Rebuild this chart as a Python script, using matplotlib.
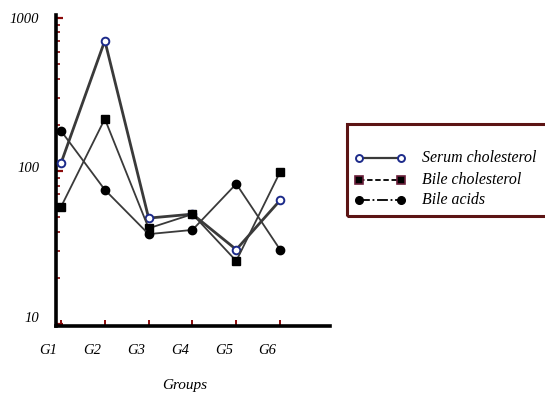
import matplotlib
matplotlib.use("Agg")
import matplotlib.pyplot as plt
import matplotlib.transforms as mtransforms
from matplotlib.lines import Line2D
from matplotlib.patches import Rectangle
from matplotlib.ticker import LogLocator, NullFormatter

plt.rcParams['font.family'] = ['Liberation Serif', 'DejaVu Serif']

groups = ["G1", "G2", "G3", "G4", "G5", "G6"]
serum_cholesterol = [112, 708, 49, 52, 30.5, 64]
bile_cholesterol = [58, 218, 42, 52, 25.7, 98]
bile_acids = [182, 75, 38.5, 41, 82, 30.5]
ytick_values = [10, 100, 1000]
ytick_labels = ["10", "100", "1000"]

line_color = "#3a3a3a"
tick_red = "#8b0a0a"
navy = "#1c2a8a"
maroon = "#5c1414"

fig = plt.figure(figsize=(5.45, 3.94), dpi=100)
ax = fig.add_axes([0.1028, 0.1734, 0.5027, 0.7886])

x = list(range(1, len(groups) + 1))

ax.plot(x, serum_cholesterol, color=line_color, lw=2.0, marker='o', ms=5.5,
        mfc='white', mec=navy, mew=1.4, zorder=3)
ax.plot(x, bile_cholesterol, color=line_color, lw=1.3, marker='s', ms=6.2,
        mfc='black', mec='black', zorder=3)
ax.plot(x, bile_acids, color=line_color, lw=1.3, marker='o', ms=6.0,
        mfc='black', mec='black', zorder=3)

ax.set_yscale('log')
ax.set_ylim(10 ** 0.987, 10 ** 3.0176)
ax.set_xlim(0.886, 7.14)

for s in ['top', 'right']:
    ax.spines[s].set_visible(False)
for s in ['left', 'bottom']:
    ax.spines[s].set_linewidth(2.6)
    ax.spines[s].set_color('black')

ax.set_yticks(ytick_values)
ax.set_yticklabels(ytick_labels, fontsize=10.5, style='italic')
ax.yaxis.set_minor_locator(LogLocator(base=10, subs=range(2, 10)))
ax.yaxis.set_minor_formatter(NullFormatter())
ax.tick_params(axis='y', which='major', direction='in', length=5, width=1.6,
               color=tick_red, pad=12)
ax.tick_params(axis='y', which='minor', direction='in', length=3, width=1.2,
               color=tick_red)

ax.set_xticks(x)
ax.set_xticklabels(groups, fontsize=10.5, style='italic')
ax.tick_params(axis='x', which='major', direction='in', length=4, width=1.4,
               color=tick_red, pad=13)

# nudge tick labels
y_shifts = {"10": 5, "100": 3, "1000": 0}
for lab in ax.get_yticklabels():
    dy = y_shifts.get(lab.get_text(), 0)
    lab.set_transform(lab.get_transform() +
                      mtransforms.ScaledTranslation(0, dy / 72, fig.dpi_scale_trans))
for lab in ax.get_xticklabels():
    lab.set_transform(lab.get_transform() +
                      mtransforms.ScaledTranslation(-9 / 72, 0, fig.dpi_scale_trans))

fig.text(185 / 545, 1 - 385 / 394, "Groups", fontsize=11, style='italic',
         ha='center', va='center')

# legend box
def fx(px):
    return px / 545

def fy(py):
    return 1 - py / 394

box = Rectangle((fx(347), fy(216)), fx(545) - fx(347) + 0.01, fy(124) - fy(216),
                transform=fig.transFigure, fill=False, edgecolor=maroon, lw=2.2,
                clip_on=False)
fig.add_artist(box)

entries = [
    ("Serum cholesterol", dict(color=line_color, lw=1.6, ls='-', marker='o', ms=5,
                               mfc='white', mec=navy, mew=1.4), 158),
    ("Bile cholesterol", dict(color='black', lw=1.3, ls=(0, (3, 1.5)), marker='s', ms=5.5,
                              mfc='black', mec='#6a1f3a', mew=1.2), 179.5),
    ("Bile acids", dict(color='black', lw=1.3, ls=(0, (6, 1.5, 1, 1.5)), marker='o', ms=5.5,
                        mfc='black', mec='black'), 200),
]
for label, style, py in entries:
    ln = Line2D([fx(359), fx(401)], [fy(py), fy(py)], transform=fig.transFigure, **style)
    fig.add_artist(ln)
    fig.text(fx(422), fy(py), label, fontsize=11.4, style='italic',
             ha='left', va='center')

fig.savefig("out.png", dpi=100)
